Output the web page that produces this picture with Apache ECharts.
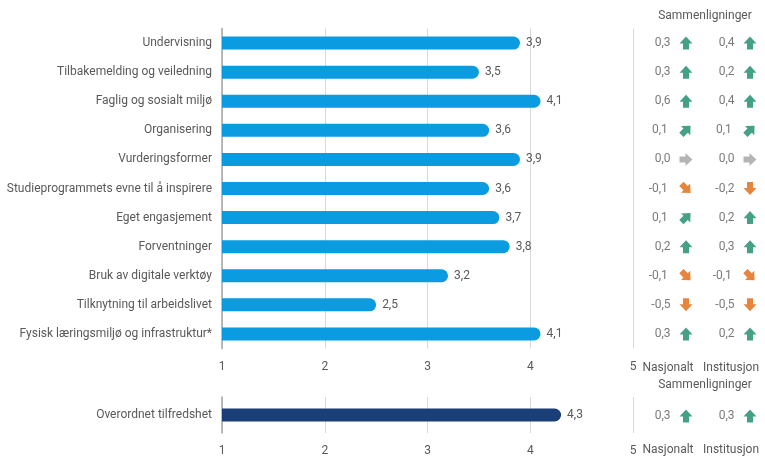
<!DOCTYPE html>
<html>
<head>
<meta charset="utf-8">
<script src="https://cdn.jsdelivr.net/npm/echarts@6/dist/echarts.min.js"></script>
<style>
html,body{margin:0;padding:0;background:#fff;}
#c{width:765px;height:457px;}
</style>
</head>
<body>
<div id="c"></div>
<script>
const categories = ['Undervisning','Tilbakemelding og veiledning','Faglig og sosialt miljø','Organisering','Vurderingsformer','Studieprogrammets evne til å inspirere','Eget engasjement','Forventninger','Bruk av digitale verktøy','Tilknytning til arbeidslivet','Fysisk læringsmiljø og infrastruktur*'];
const scores = [3.9,3.5,4.1,3.6,3.9,3.6,3.7,3.8,3.2,2.5,4.1];
const nasjonalt = [0.3,0.3,0.6,0.1,0.0,-0.1,0.1,0.2,-0.1,-0.5,0.3];
const institusjon = [0.4,0.2,0.4,0.1,0.0,-0.2,0.2,0.3,-0.1,-0.5,0.2];
const overallCategory = ['Overordnet tilfredshet'];
const overallScore = [4.3];
const overallNasjonalt = [0.3];
const overallInstitusjon = [0.3];
const xTicks = [1,2,3,4,5];
const compHeader = 'Sammenligninger';
const compColumns = ['Nasjonalt','Institusjon'];

const FONT = 'Roboto, "Noto Sans", sans-serif';
const TXT = '#595959';
const fmt = v => v.toFixed(1).replace('.', ',');
const ARROW = 'path://M6,0 L12,6.5 L8.8,6.5 L8.8,12 L3.2,12 L3.2,6.5 L0,6.5 Z';

function arrowStyle(v){
  const r = Math.round(v*10)/10;
  if (r >= 0.2) return {rot:0, color:'#178a68'};
  if (r > 0) return {rot:-45, color:'#178a68'};
  if (r === 0) return {rot:-90, color:'#a3a3a3'};
  if (r > -0.2) return {rot:-135, color:'#e0670b'};
  return {rot:180, color:'#e0670b'};
}
function compSeries(vals, xPos, xAxisIndex, yAxisIndex){
  return {
    type:'scatter', xAxisIndex, yAxisIndex, symbol:ARROW, symbolSize:[13,13],
    data: vals.map((v,i)=>{const s=arrowStyle(v);return {value:[xPos,i,v], symbolRotate:s.rot, itemStyle:{color:s.color}};}),
    label:{show:true, position:'left', distance:9, color:TXT, fontSize:12, fontFamily:FONT, formatter:p=>fmt(p.value[2])},
    silent:true, z:5
  };
}
const xMin = xTicks[0], xMax = xTicks[xTicks.length-1];
function valueAxis(gridIndex){
  return {gridIndex, type:'value', min:xMin, max:xMax, interval:1,
    axisLine:{show:false}, axisTick:{show:false},
    axisLabel:{color:TXT, fontSize:12, fontFamily:FONT, margin:12},
    splitLine:{lineStyle:{color:'#d9d9d9', width:1}}};
}
function catAxis(gridIndex, data){
  return {gridIndex, type:'category', data, inverse:true,
    axisLine:{show:true, lineStyle:{color:'#a6a6a6', width:1.5}}, axisTick:{show:false},
    axisLabel:{color:TXT, fontSize:12, fontFamily:FONT, margin:10}};
}
function hiddenX(gridIndex){return {gridIndex, type:'value', min:0, max:125, show:false};}
function hiddenY(gridIndex, data){return {gridIndex, type:'category', data, inverse:true, show:false};}

const chart = echarts.init(document.getElementById('c'), null, {renderer:'canvas'});
chart.setOption({
  animation:false,
  textStyle:{fontFamily:FONT},
  grid:[
    {left:222, width:411, top:28.5, height:320},
    {left:222, width:411, top:397, height:38},
    {left:640, width:125, top:28.5, height:320},
    {left:640, width:125, top:397, height:38}
  ],
  xAxis:[valueAxis(0), valueAxis(1), hiddenX(2), hiddenX(3)],
  yAxis:[catAxis(0, categories), catAxis(1, overallCategory), hiddenY(2, categories), hiddenY(3, overallCategory)],
  series:[
    {type:'bar', xAxisIndex:0, yAxisIndex:0, data:scores, barWidth:13,
      itemStyle:{color:'#0b9be0', borderRadius:[0,7,7,0]},
      label:{show:true, position:'right', distance:6, color:TXT, fontSize:12, fontFamily:FONT, formatter:p=>fmt(p.value)}},
    {type:'bar', xAxisIndex:1, yAxisIndex:1, data:overallScore, barWidth:13,
      itemStyle:{color:'#1a3e78', borderRadius:[0,7,7,0]},
      label:{show:true, position:'right', distance:6, color:TXT, fontSize:12, fontFamily:FONT, formatter:p=>fmt(p.value)}},
    compSeries(nasjonalt, 46, 2, 2),
    compSeries(institusjon, 110, 2, 2),
    compSeries(overallNasjonalt, 46, 3, 3),
    compSeries(overallInstitusjon, 110, 3, 3)
  ],
  graphic:[
    {type:'text', x:705, y:16, style:{text:compHeader, fill:TXT, font:'12px '+FONT, textAlign:'center', textVerticalAlign:'middle'}},
    {type:'text', x:668, y:368, style:{text:compColumns[0], fill:TXT, font:'12px '+FONT, textAlign:'center', textVerticalAlign:'middle'}},
    {type:'text', x:731, y:368, style:{text:compColumns[1], fill:TXT, font:'12px '+FONT, textAlign:'center', textVerticalAlign:'middle'}},
    {type:'text', x:705, y:385, style:{text:compHeader, fill:TXT, font:'12px '+FONT, textAlign:'center', textVerticalAlign:'middle'}},
    {type:'text', x:668, y:450, style:{text:compColumns[0], fill:TXT, font:'12px '+FONT, textAlign:'center', textVerticalAlign:'middle'}},
    {type:'text', x:731, y:450, style:{text:compColumns[1], fill:TXT, font:'12px '+FONT, textAlign:'center', textVerticalAlign:'middle'}}
  ]
});
</script>
</body>
</html>
